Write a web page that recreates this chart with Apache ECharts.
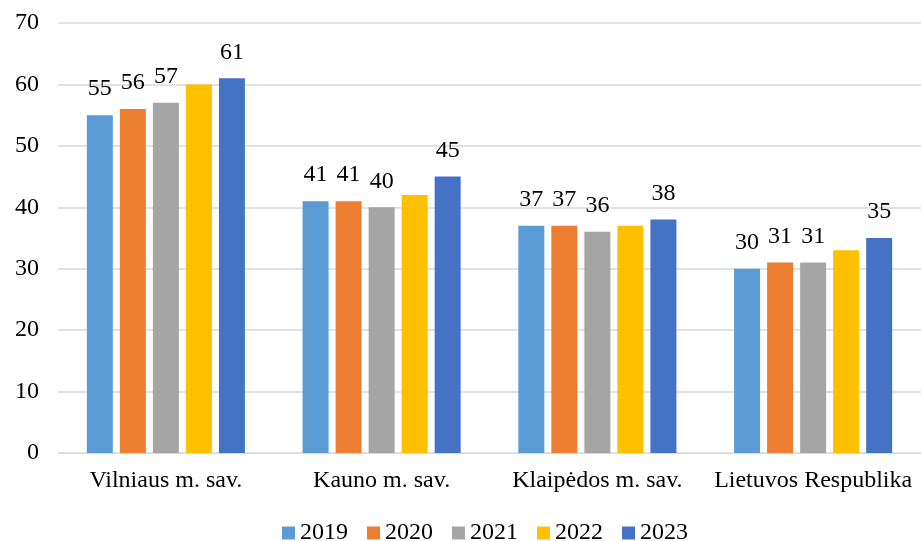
<!DOCTYPE html>
<html><head><meta charset="utf-8">
<script src="https://cdn.jsdelivr.net/npm/echarts@6/dist/echarts.min.js"></script>
<style>html,body{margin:0;padding:0;background:#fff}#c{width:921px;height:541px}</style>
</head><body><div id="c"></div>
<script>
const categories = ['Vilniaus m. sav.', 'Kauno m. sav.', 'Klaipėdos m. sav.', 'Lietuvos Respublika'];
const years = ['2019', '2020', '2021', '2022', '2023'];
const v2019 = [55, 41, 37, 30];
const v2020 = [56, 41, 37, 31];
const v2021 = [57, 40, 36, 31];
const v2022 = [60, 42, 37, 33];
const v2023 = [61, 45, 38, 35];
const colors = ['#5B9BD5', '#ED7D31', '#A5A5A5', '#FFC000', '#4472C4'];
const showLabel = [true, true, true, false, true];
const values = [v2019, v2020, v2021, v2022, v2023];
const font = '"Liberation Serif", "Times New Roman", serif';
const chart = echarts.init(document.getElementById('c'));
chart.setOption({
  animation: false,
  textStyle: { fontFamily: font },
  grid: { left: 58, right: -8, top: 23, bottom: 88, containLabel: false },
  legend: {
    top: 516, left: 277, itemWidth: 13, itemHeight: 13, itemGap: 19,
    icon: 'rect',
    textStyle: { fontFamily: font, fontSize: 24, color: '#000' },
    data: years
  },
  xAxis: {
    type: 'category', data: categories,
    axisLine: { lineStyle: { color: '#D9D9D9', width: 1 } },
    axisTick: { show: false },
    axisLabel: { interval: 0, fontFamily: font, fontSize: 24, color: '#000', margin: 16 }
  },
  yAxis: {
    type: 'value', min: 0, max: 70, interval: 10,
    axisLine: { show: false }, axisTick: { show: false },
    splitLine: { lineStyle: { color: '#D9D9D9', width: 1.5 } },
    axisLabel: { fontFamily: font, fontSize: 24, color: '#000', margin: 19 }
  },
  series: years.map((y, i) => ({
    name: y, type: 'bar', data: values[i],
    barWidth: 26, barGap: '27%',
    itemStyle: { color: colors[i] },
    label: { show: showLabel[i], position: 'top', distance: 14, fontFamily: font, fontSize: 24, color: '#000' }
  }))
});
</script></body></html>
